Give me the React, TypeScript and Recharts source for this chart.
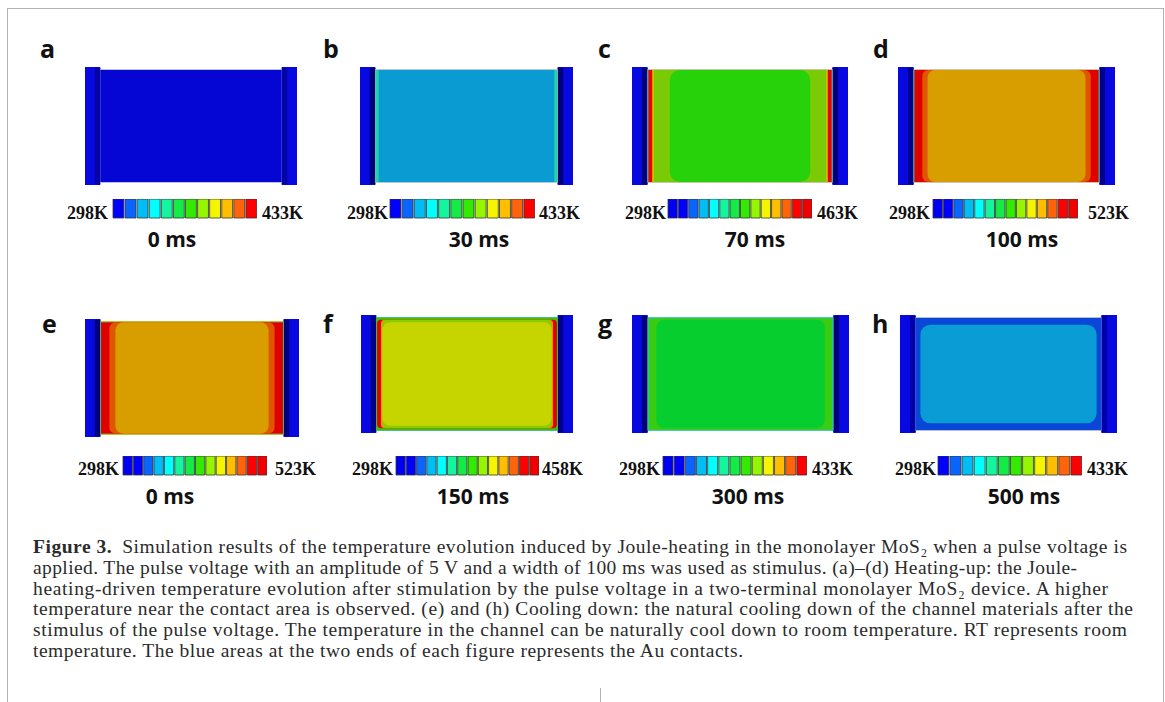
import React from 'react';
import { ComposedChart, BarChart, Bar, Cell, XAxis, YAxis, ReferenceArea } from 'recharts';

// panel letters, time stamps and colour-bar ranges
const LETTERS = ['a', 'b', 'c', 'd', 'e', 'f', 'g', 'h'];
const TIMES = ['0 ms', '30 ms', '70 ms', '100 ms', '0 ms', '150 ms', '300 ms', '500 ms'];
const T_LOW = ['298K', '298K', '298K', '298K', '298K', '298K', '298K', '298K'];
const T_HIGH = ['433K', '433K', '463K', '523K', '523K', '458K', '433K', '433K'];

// colour-bar cells (jet-like legend of each panel)
const CMAP_12 = [
  '#0000ff', '#0a64ff', '#00bef5', '#00ffff', '#14f5a0', '#14eb46',
  '#32eb00', '#96f500', '#f5f500', '#ffbe00', '#ff640a', '#ff0000',
];
const CMAP_13 = ['#0000f0', ...CMAP_12];
const CMAP_14 = ['#0000f0', ...CMAP_12, '#f00000'];
const BAR_COLORS = [CMAP_12, CMAP_12, CMAP_14, CMAP_14, CMAP_14, CMAP_14, CMAP_13, CMAP_12];

// device geometry in device units (length 0..100, width 0..56)
const DEV_LEN = 100;
const DEV_WID = 56;
const CH_L = 7.2;
const CH_R = 92.8;
const NAVY_W = 2.6;
const CONTACT = '#0808e0';
const NAVY = ['#0404a4', '#000078', '#00007c', '#00008c', '#00007c', '#000088', '#00007c', '#0000a8'];

// temperature field layers per panel: [x1, x2, y1, y2, colour, corner]
type Layer = [number, number, number, number, string, number?];
const FIELD_A: Layer[] = [
  [7.2, 92.8, 1.0, 55.0, '#c4c4d4'],
  [7.2, 92.8, 1.4, 54.6, '#0505d4'],
];
const FIELD_B: Layer[] = [
  [7.2, 92.8, 1.0, 55.0, '#c0c8d0'],
  [7.2, 92.8, 1.4, 54.6, '#24d2aa'],
  [8.8, 91.2, 1.4, 54.6, '#0a9bd3'],
];
const FIELD_C: Layer[] = [
  [7.2, 92.8, 1.0, 55.0, '#c8ccc0'],
  [7.2, 92.8, 1.4, 54.6, '#10d0a0'],
  [7.6, 92.4, 1.4, 54.6, '#f00000'],
  [9.4, 90.6, 1.4, 54.6, '#d8d000'],
  [10.0, 90.0, 1.4, 54.6, '#7acb05'],
  [17.5, 82.5, 1.4, 54.6, '#27d20b', 10],
];
const FIELD_D: Layer[] = [
  [7.2, 92.8, 1.0, 55.0, '#cfcfb8'],
  [7.2, 92.8, 1.4, 54.6, '#20c080'],
  [7.6, 92.4, 1.4, 54.6, '#e00000'],
  [11.2, 88.8, 1.4, 54.6, '#e05500', 6],
  [13.6, 86.4, 1.4, 54.6, '#d89e00', 8],
];
const FIELD_E: Layer[] = [
  [7.2, 92.8, 1.0, 55.0, '#a8c028'],
  [7.2, 92.8, 1.6, 54.4, '#20c080'],
  [7.5, 92.5, 1.6, 54.4, '#e00000'],
  [11.4, 88.6, 1.6, 54.4, '#e05500', 6],
  [14.2, 85.8, 1.6, 54.4, '#d89e00', 8],
];
const FIELD_F: Layer[] = [
  [7.2, 92.8, 1.0, 55.0, '#30bc80'],
  [7.2, 92.8, 1.4, 54.6, '#3cc400'],
  [7.6, 92.4, 2.2, 53.8, '#e00000', 4],
  [9.4, 90.6, 2.2, 53.8, '#f09000', 4],
  [10.0, 90.0, 2.4, 53.6, '#8ccc00', 5],
  [10.0, 90.0, 3.4, 52.6, '#c6d500', 8],
];
const FIELD_G: Layer[] = [
  [7.2, 92.8, 1.0, 55.0, '#40c0a8'],
  [7.2, 92.8, 1.6, 54.4, '#2cc890'],
  [7.8, 92.2, 1.6, 54.4, '#3acc12'],
  [11.2, 88.8, 2.2, 53.8, '#06ce2f', 8],
];
const FIELD_H: Layer[] = [
  [7.2, 92.8, 1.0, 55.0, '#b8bcd8'],
  [7.2, 92.8, 1.4, 54.6, '#0a46d8'],
  [9.4, 90.6, 4.6, 51.4, '#0a9cd4', 10],
];
const FIELDS = [FIELD_A, FIELD_B, FIELD_C, FIELD_D, FIELD_E, FIELD_F, FIELD_G, FIELD_H];

const CAPTION_HEAD = 'Figure 3.';
const CAPTION = [
  'Simulation results of the temperature evolution induced by Joule-heating in the monolayer MoS₂ when a pulse voltage is',
  'applied. The pulse voltage with an amplitude of 5 V and a width of 100 ms was used as stimulus. (a)–(d) Heating-up: the Joule-',
  'heating-driven temperature evolution after stimulation by the pulse voltage in a two-terminal monolayer MoS₂ device. A higher',
  'temperature near the contact area is observed. (e) and (h) Cooling down: the natural cooling down of the channel materials after the',
  'stimulus of the pulse voltage. The temperature in the channel can be naturally cool down to room temperature. RT represents room',
  'temperature. The blue areas at the two ends of each figure represents the Au contacts.',
];
const CAPTION_W = [1094, 1044, 1075, 1100, 1094, 710];

// layout of each panel on the page
const DEVICE_BOX = [
  { left: 85, top: 67, w: 212 },
  { left: 360, top: 67, w: 213 },
  { left: 632, top: 67, w: 216 },
  { left: 898, top: 67, w: 217 },
  { left: 85, top: 319, w: 214 },
  { left: 361, top: 315, w: 212 },
  { left: 632, top: 315, w: 217 },
  { left: 900, top: 315, w: 217 },
];
const BAR_BOX = [
  { left: 112, top: 199, w: 145 },
  { left: 389, top: 199, w: 146 },
  { left: 667, top: 199, w: 145 },
  { left: 932, top: 199, w: 146 },
  { left: 122, top: 456, w: 145 },
  { left: 395, top: 456, w: 144 },
  { left: 662, top: 456, w: 145 },
  { left: 937, top: 456, w: 145 },
];
const LOW_X = [108, 388, 666, 930, 119, 393, 660, 936];
const HIGH_X = [262, 539, 817, 1088, 275, 542, 812, 1087];
const TIME_X = [172, 479, 755, 1022, 170, 473, 748, 1024];
const LETTER_X = [40, 323, 598, 873, 42, 323, 598, 872];

const FRAME = [{ x: 0 }, { x: DEV_LEN }];
const DEV_H = 118;

const roundRect = (r: number) => (p: any) => (
  <rect x={p.x} y={p.y} width={p.width} height={p.height} rx={r} ry={r} fill={p.fill} stroke="none" />
);

function Device({ idx }: { idx: number }) {
  const box = DEVICE_BOX[idx];
  const navy = NAVY[idx];
  return (
    <div style={{ position: 'absolute', left: box.left, top: box.top }}>
      <ComposedChart width={box.w} height={DEV_H} data={FRAME} margin={{ top: 0, right: 0, bottom: 0, left: 0 }}>
        <XAxis type="number" dataKey="x" domain={[0, DEV_LEN]} hide allowDataOverflow />
        <YAxis type="number" domain={[0, DEV_WID]} hide allowDataOverflow />
        <ReferenceArea x1={0} x2={CH_L} y1={0} y2={DEV_WID} fill={CONTACT} fillOpacity={1} shape={roundRect(0)} />
        <ReferenceArea x1={CH_R} x2={DEV_LEN} y1={0} y2={DEV_WID} fill={CONTACT} fillOpacity={1} shape={roundRect(0)} />
        <ReferenceArea x1={CH_L - NAVY_W} x2={CH_L} y1={0.4} y2={DEV_WID - 0.4} fill={navy} fillOpacity={1} shape={roundRect(0)} />
        <ReferenceArea x1={CH_R} x2={CH_R + NAVY_W} y1={0.4} y2={DEV_WID - 0.4} fill={navy} fillOpacity={1} shape={roundRect(0)} />
        {FIELDS[idx].map(([x1, x2, y1, y2, c, r], i) => (
          <ReferenceArea key={i} x1={x1} x2={x2} y1={y1} y2={y2} fill={c} fillOpacity={1} shape={roundRect(r ?? 0)} />
        ))}
      </ComposedChart>
    </div>
  );
}

function ColorBar({ idx }: { idx: number }) {
  const box = BAR_BOX[idx];
  const colors = BAR_COLORS[idx];
  const n = colors.length;
  const data = colors.map((_, i) => ({ cell: i, v: 1 }));
  const ticks = Array.from({ length: n + 1 }, (_, i) => i);
  return (
    <div style={{ position: 'absolute', left: box.left, top: box.top }}>
      <BarChart
        width={box.w}
        height={24}
        data={data}
        margin={{ top: 0, right: 0, bottom: 0, left: 0 }}
        barCategoryGap={0}
        barGap={0}
      >
        <XAxis dataKey="cell" hide />
        <XAxis
          xAxisId="t"
          type="number"
          domain={[0, n]}
          ticks={ticks}
          interval={0}
          tick={false}
          axisLine={false}
          tickLine={{ stroke: '#777', strokeWidth: 0.8 }}
          tickSize={4}
          height={5}
        />
        <YAxis hide domain={[0, 1]} />
        <Bar dataKey="v" barSize={box.w / n} stroke="#333" strokeWidth={0.8} isAnimationActive={false}>
          {colors.map((c, i) => (
            <Cell key={i} fill={c} />
          ))}
        </Bar>
      </BarChart>
    </div>
  );
}

const SANS = "'Open Sans', 'DejaVu Sans', sans-serif";
const SERIF = "'Liberation Serif', 'DejaVu Serif', serif";

export default function App() {
  const lineY = (i: number) => 553 + i * 20.8;
  return (
    <div style={{ position: 'absolute', left: 0, top: 0, width: 1165, height: 702, background: '#fff', overflow: 'hidden' }}>
      <div style={{ position: 'absolute', left: 7, top: 8, width: 1155, height: 760, border: '1px solid #b4b4b4' }} />
      <div style={{ position: 'absolute', left: 600, top: 688, width: 1, height: 14, background: '#b4b4b4' }} />
      {LETTERS.map((_, i) => (
        <React.Fragment key={i}>
          <Device idx={i} />
          <ColorBar idx={i} />
        </React.Fragment>
      ))}
      <svg width={1165} height={702} style={{ position: 'absolute', left: 0, top: 0, pointerEvents: 'none' }}>
        {LETTERS.map((l, i) => {
          const row = i < 4 ? 0 : 1;
          return (
            <g key={l}>
              <text x={LETTER_X[i]} y={row ? 333 : 58} fontFamily={SANS} fontWeight={700} fontSize={25} fill="#111">
                {l}
              </text>
              <text x={LOW_X[i]} y={row ? 475 : 219} textAnchor="end" fontFamily={SERIF} fontWeight={700} fontSize={18} fill="#111">
                {T_LOW[i]}
              </text>
              <text x={HIGH_X[i]} y={row ? 475 : 219} fontFamily={SERIF} fontWeight={700} fontSize={18} fill="#111">
                {T_HIGH[i]}
              </text>
              <text x={TIME_X[i]} y={row ? 504 : 247} textAnchor="middle" fontFamily={SANS} fontWeight={700} fontSize={21} fill="#111">
                {TIMES[i]}
              </text>
            </g>
          );
        })}
        <g fontFamily={SERIF} fontSize={19.5} fill="#2b2b2b">
          {CAPTION.map((line, i) => (
            <text key={i} x={33} y={lineY(i)} textLength={CAPTION_W[i]} lengthAdjust="spacing">
              {i === 0 ? (
                <>
                  <tspan fontWeight={700}>{CAPTION_HEAD}</tspan>
                  <tspan dx={10}>{line}</tspan>
                </>
              ) : (
                line
              )}
            </text>
          ))}
        </g>
      </svg>
    </div>
  );
}
